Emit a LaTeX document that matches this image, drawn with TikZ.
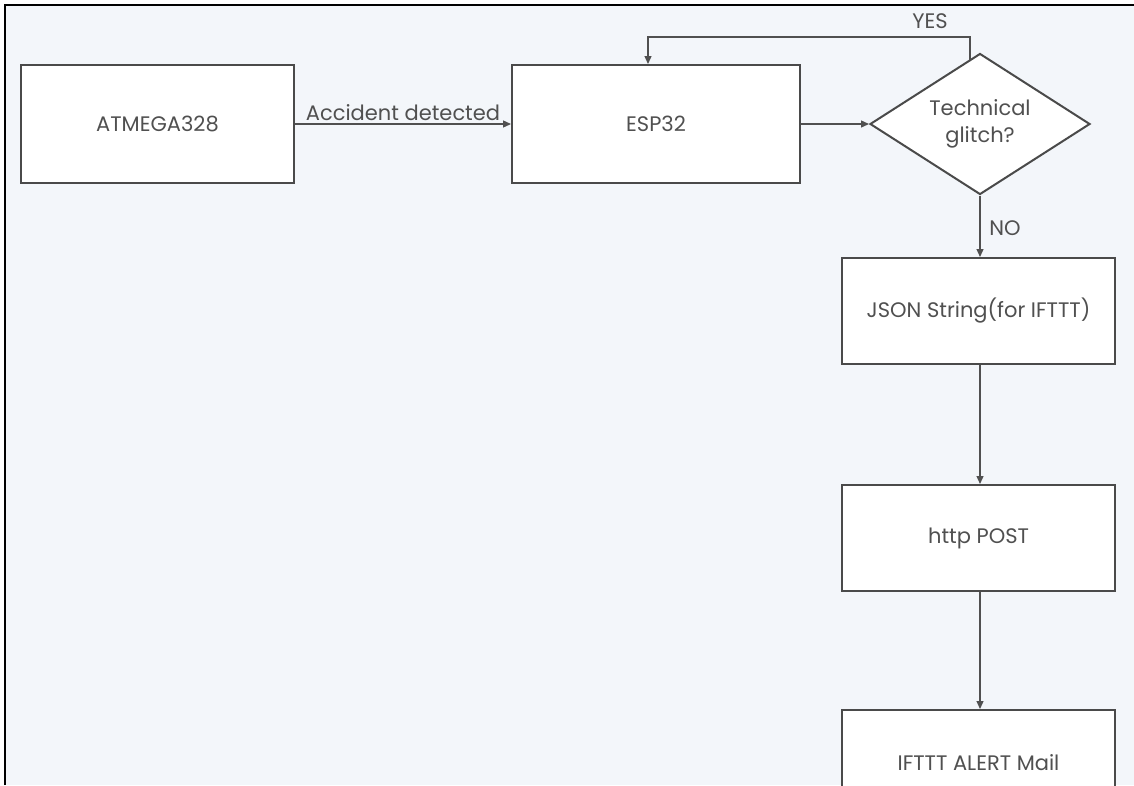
\documentclass[tikz,border=0pt]{standalone}
\usepackage{fontspec}
\setmainfont{Poppins}
\usetikzlibrary{arrows.meta,shapes.geometric}
\definecolor{bgc}{HTML}{F3F6FA}
\definecolor{edgec}{HTML}{4A4A4A}
\definecolor{txtc}{HTML}{505050}
\definecolor{linec}{HTML}{505050}
\tikzset{
  box/.style={draw=edgec,fill=white,line width=2pt,inner sep=0pt,font=\fontsize{21}{27}\selectfont,text=txtc},
  decide/.style={shape=diamond,draw=edgec,fill=white,line width=2pt,inner sep=0pt,font=\fontsize{21}{27}\selectfont,text=txtc,align=center},
  conn/.style={draw=linec,line width=1.3pt,-{Triangle[length=8pt,width=7pt]}},
  lab/.style={text=txtc,font=\fontsize{21}{26}\selectfont,inner sep=0pt}
}
\begin{document}
\begin{tikzpicture}[x=1pt,y=-1pt]
\useasboundingbox (0,0) rectangle (1134,785);
\fill[white] (0,0) rectangle (1134,785);
\fill[bgc] (5,5) rectangle (1134,785);
\draw[black,line width=1.5pt] (5,785) -- (5,5) -- (1134,5);

\node[box,minimum width=273pt,minimum height=118pt] (atm) at (157.5,124) {ATMEGA328};
\node[box,minimum width=288pt,minimum height=118pt] (esp) at (656,124) {ESP32};
\node[decide,minimum width=220pt,minimum height=141pt,aspect=1.56] (dia) at (980,124) {Technical\\glitch?};
\node[box,minimum width=273pt,minimum height=106pt] (json) at (978.5,311) {JSON String(for IFTTT)};
\node[box,minimum width=273pt,minimum height=106pt] (http) at (978.5,538) {http POST};
\node[box,minimum width=273pt,minimum height=106pt,anchor=north] (mail) at (978.5,709) {IFTTT ALERT Mail};

\draw[conn] (atm.east) -- node[lab,above=3pt] (acc) {Accident detected} (esp.west);
\draw[conn] (esp.east) -- (dia.west);
\coordinate (ys) at (970,59.5);
\coordinate (yc1) at (970,37);
\coordinate (yc2) at (648,37);
\draw[conn] (ys) -- (yc1) -- (yc2) -- (esp.north -| yc2);
\node[lab] (yes) at (930,21) {YES};
\draw[conn] (dia.south) -- (json.north -| dia.south);
\node[lab] (no) at (1005,228) {NO};
\draw[conn] (json.south -| dia.south) -- (http.north -| dia.south);
\draw[conn] (http.south -| dia.south) -- (mail.north -| dia.south);
\end{tikzpicture}
\end{document}
